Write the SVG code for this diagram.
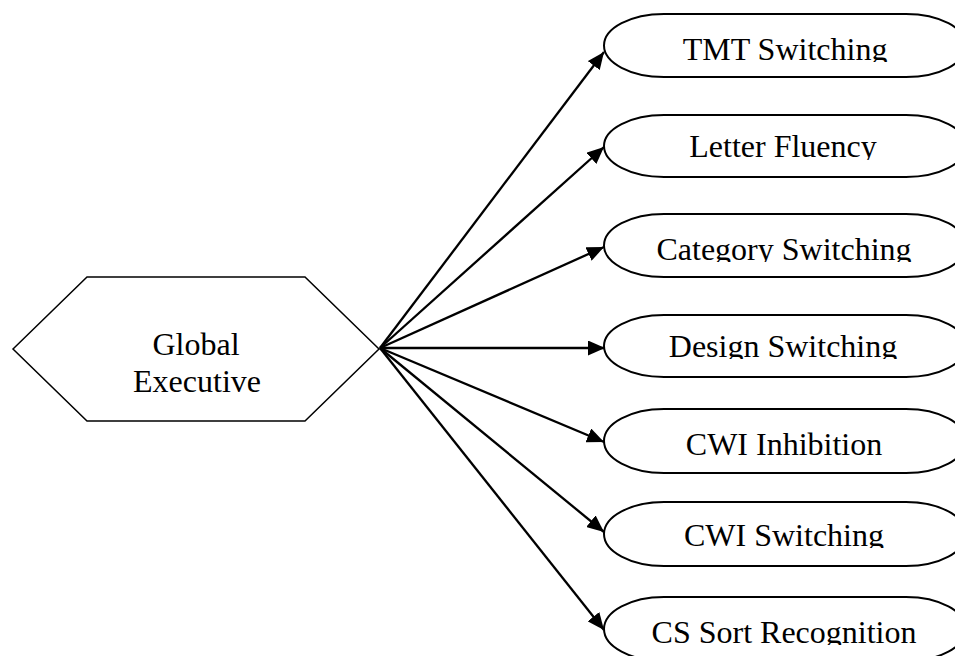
<svg xmlns="http://www.w3.org/2000/svg" width="955" height="656" viewBox="0 0 955 656">
<style>
.shape{fill:#fff;stroke:#000;stroke-width:2}
.hex{fill:#fff;stroke:#000;stroke-width:1.5}
.lbl{font-family:"Liberation Serif","Times New Roman",serif;font-size:32px;fill:#000;text-anchor:middle}
.conn{stroke:#000;stroke-width:2.3;fill:none;marker-end:url(#arr)}
</style>
<defs>
<marker id="arr" markerUnits="userSpaceOnUse" markerWidth="18" markerHeight="15" refX="17" refY="7.5" orient="auto">
<path d="M0,0 L17,7.5 L0,15 z" fill="#000"/>
</marker>
<clipPath id="c1"><rect x="600" y="0" width="355" height="62"/></clipPath>
<clipPath id="c2"><rect x="600" y="100" width="355" height="60"/></clipPath>
<clipPath id="c3"><rect x="600" y="200" width="355" height="62"/></clipPath>
<clipPath id="c4"><rect x="600" y="300" width="355" height="59"/></clipPath>
<clipPath id="c6"><rect x="600" y="490" width="355" height="58"/></clipPath>
<clipPath id="c7"><rect x="600" y="590" width="355" height="55"/></clipPath>
</defs>
<rect width="955" height="656" fill="#fff"/>
<g id="connectors">
<line class="conn" x1="380" y1="348" x2="604" y2="52"/>
<line class="conn" x1="380" y1="348" x2="604" y2="147"/>
<line class="conn" x1="380" y1="348" x2="604" y2="247"/>
<line class="conn" x1="380" y1="348" x2="605" y2="348"/>
<line class="conn" x1="380" y1="348" x2="604" y2="442"/>
<line class="conn" x1="380" y1="348" x2="604" y2="532"/>
<line class="conn" x1="380" y1="348" x2="604" y2="630"/>
</g>
<g id="global-executive">
<polygon class="hex" points="13,349 87,277 305,277 379,349 305,421 87,421"/>
<text class="lbl" x="196" y="355">Global</text>
<text class="lbl" x="197" y="392">Executive</text>
</g>
<g id="tmt-switching">
<rect class="shape" x="604" y="14" width="362" height="63" rx="60" ry="31.5"/>
<text class="lbl" x="785" y="60" clip-path="url(#c1)">TMT Switching</text>
</g>
<g id="letter-fluency">
<rect class="shape" x="604" y="115" width="362" height="62" rx="60" ry="31"/>
<text class="lbl" x="783" y="157" clip-path="url(#c2)">Letter Fluency</text>
</g>
<g id="category-switching">
<rect class="shape" x="604" y="214" width="362" height="63" rx="60" ry="31.5"/>
<text class="lbl" x="784" y="260" clip-path="url(#c3)">Category Switching</text>
</g>
<g id="design-switching">
<rect class="shape" x="604" y="315" width="362" height="62" rx="60" ry="31"/>
<text class="lbl" x="783" y="357" clip-path="url(#c4)">Design Switching</text>
</g>
<g id="cwi-inhibition">
<rect class="shape" x="604" y="409" width="362" height="64" rx="60" ry="32"/>
<text class="lbl" x="784" y="455">CWI Inhibition</text>
</g>
<g id="cwi-switching">
<rect class="shape" x="604" y="502" width="362" height="64" rx="60" ry="32"/>
<text class="lbl" x="784" y="546" clip-path="url(#c6)">CWI Switching</text>
</g>
<g id="cs-sort-recognition">
<rect class="shape" x="604" y="597" width="362" height="64" rx="60" ry="32"/>
<text class="lbl" x="784" y="643" clip-path="url(#c7)">CS Sort Recognition</text>
</g>
</svg>
